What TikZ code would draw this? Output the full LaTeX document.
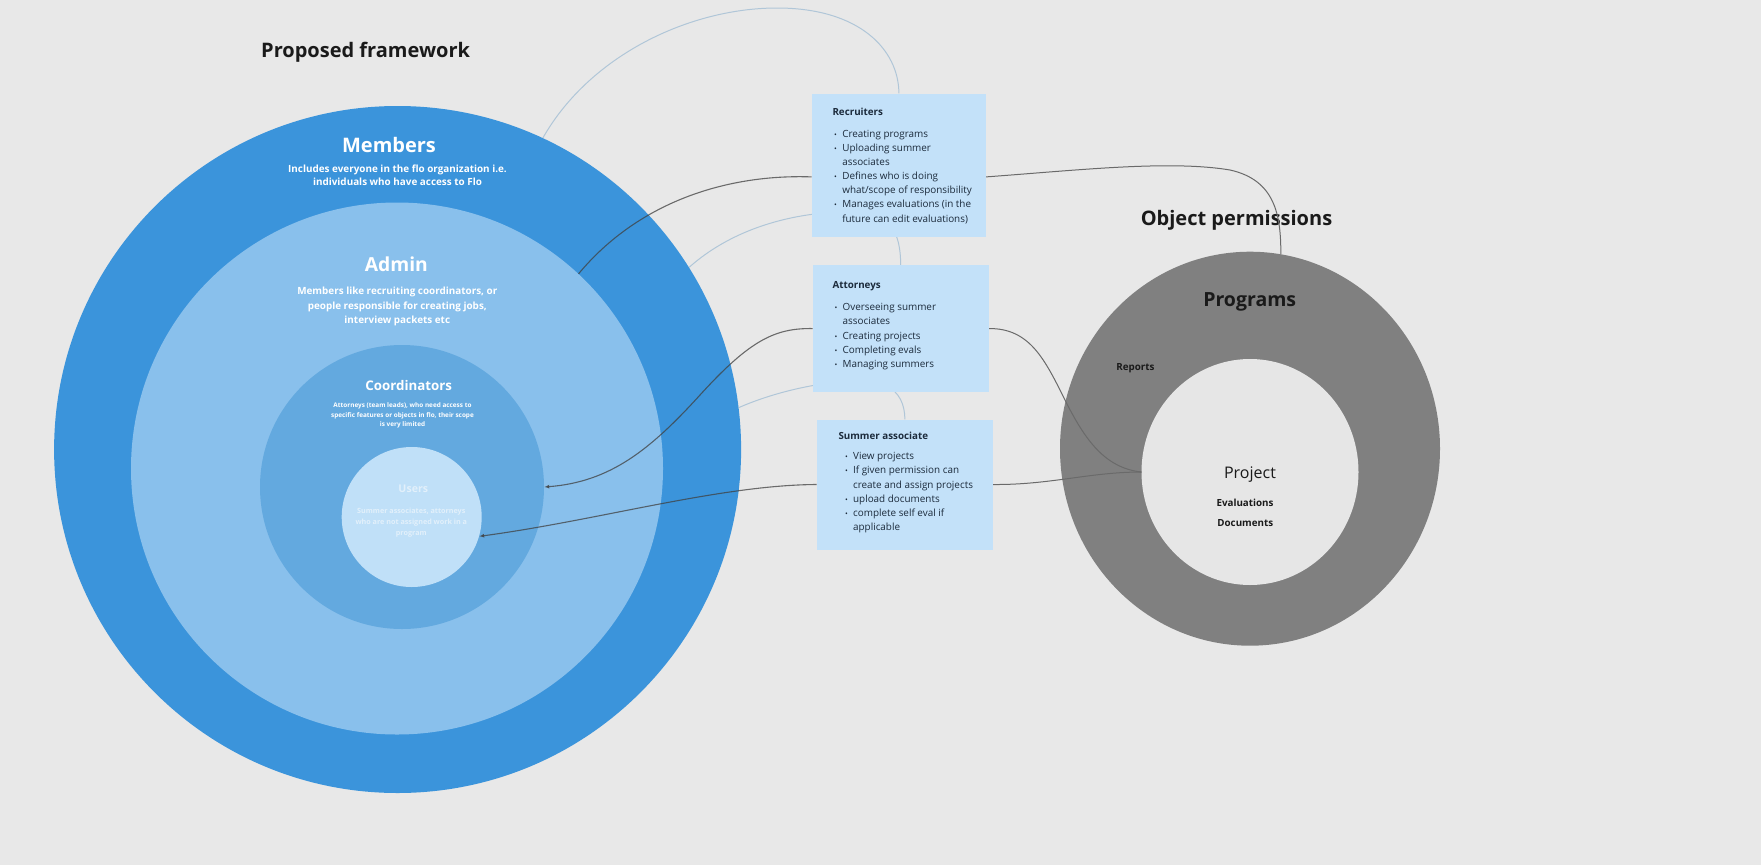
\documentclass[tikz,border=0pt]{standalone}
\usepackage{fontspec}
\usepackage{graphicx}
\setmainfont{Open Sans}
\usetikzlibrary{shapes.geometric,arrows.meta}
\pgfdeclarelayer{lines}\pgfdeclarelayer{front}
\pgfsetlayers{main,lines,front}
\definecolor{bgc}{HTML}{E8E8E8}
\definecolor{memc}{HTML}{3B94DB}
\definecolor{admc}{HTML}{89C0EC}
\definecolor{cooc}{HTML}{63A9DF}
\definecolor{usec}{HTML}{C0E0F8}
\definecolor{boxc}{HTML}{C3E1F9}
\definecolor{ringc}{HTML}{808080}
\definecolor{innc}{HTML}{E6E6E6}
\definecolor{navy}{HTML}{1C2B3C}
\definecolor{usetxt}{HTML}{E2F0FB}
\definecolor{darkln}{HTML}{404040}
\definecolor{greyln}{HTML}{6A6A6A}
\definecolor{lightln}{HTML}{B0C6D8}
\definecolor{headc}{HTML}{1A1A1A}
\newcommand{\bitem}{\makebox[8.7pt][l]{\hspace{0.6pt}\scalebox{0.75}{\textbullet}}}
\tikzset{
  ring/.style={circle, inner sep=0pt, draw=none},
  oval/.style={ellipse, inner sep=0pt, draw=none},
  infobox/.style={rectangle, fill=boxc, inner sep=0pt, anchor=north west},
  boxtitle/.style={anchor=base west, inner sep=0pt, text=navy, font=\bfseries\fontsize{9.8}{12}\selectfont},
  boxlist/.style={anchor=base west, inner sep=0pt, text=navy, font=\fontsize{9.9}{14.15}\selectfont},
  bigtitle/.style={anchor=base, inner sep=0pt, text=white, font=\bfseries\fontsize{20}{25}\selectfont},
  heading/.style={anchor=base, inner sep=0pt, text=headc, font=\bfseries\fontsize{20}{24}\selectfont},
  subtext/.style={anchor=base, inner sep=0pt, text=white, font=\bfseries\fontsize{9.9}{13.6}\selectfont},
  objlabel/.style={anchor=base, inner sep=0pt, text=headc, font=\bfseries\fontsize{9.8}{12}\selectfont},
  lightline/.style={draw=lightln, line width=1pt},
  darkline/.style={draw=darkln, line width=1.1pt, opacity=0.75},
  greyline/.style={draw=greyln, line width=1pt},
  tip/.style={-{Latex[length=5pt,width=4pt]}}
}
\begin{document}
\begin{tikzpicture}[x=1pt,y=-1pt]
\useasboundingbox (0,0) rectangle (1761,865);
\fill[bgc] (0,0) rectangle (1761,865);

% headings
\node[heading] (hpf) at (365.6,57) {Proposed framework};
\node[heading] (hop) at (1236.5,225) {Object permissions};

% nested circles
\node[ring, fill=memc, minimum size=687pt] (members) at (397.6,449.5) {};
\node[ring, fill=admc, minimum size=532pt] (admin) at (397,468.5) {};
\node[ring, fill=cooc, minimum size=284pt] (coord) at (402,487) {};
\node[ring, fill=usec, minimum size=140pt] (users) at (411.7,517) {};

\node[bigtitle] (tmem) at (389,152) {Members};
\node[subtext] (smem) at (397.5,172.3) {\begin{tabular}[t]{@{}c@{}}Includes everyone in the flo organization i.e.\\individuals who have access to Flo\end{tabular}};
\node[bigtitle, font=\bfseries\fontsize{19.3}{25}\selectfont] (tadm) at (396.3,271) {Admin};
\node[subtext, font=\bfseries\fontsize{9.9}{14.2}\selectfont] (sadm) at (397.3,294.8) {\begin{tabular}[t]{@{}c@{}}Members like recruiting coordinators, or\\people responsible for creating jobs,\\interview packets etc\end{tabular}};
\node[bigtitle, font=\bfseries\fontsize{13.3}{16}\selectfont] (tcoo) at (408.7,390.5) {Coordinators};
\node[subtext, font=\bfseries\fontsize{6.4}{9.5}\selectfont] (scoo) at (402.5,407.8) {\begin{tabular}[t]{@{}c@{}}Attorneys (team leads), who need access to\\specific features or objects in flo, their scope\\is very limited\end{tabular}};
\node[bigtitle, text=usetxt, font=\bfseries\fontsize{10.6}{13}\selectfont] (tuse) at (413.3,492) {Users};
\node[subtext, text=usetxt, font=\bfseries\fontsize{7.2}{11.2}\selectfont] (suse) at (411.3,513.5) {\begin{tabular}[t]{@{}c@{}}Summer associates, attorneys\\who are not assigned work in a\\program\end{tabular}};

% object permissions
\node[oval, fill=ringc, minimum width=380pt, minimum height=394pt] (programs) at (1250,448.7) {};
\node[oval, fill=innc, minimum width=217pt, minimum height=226pt] (project) at (1250,472) {};
\node[heading, font=\bfseries\fontsize{19.5}{24}\selectfont] (tprog) at (1249.7,306.5) {Programs};
\node[objlabel] (trep) at (1135.5,370) {Reports};
\node[anchor=base, inner sep=0pt, text=headc, font=\fontsize{16}{19}\selectfont] (tproj) at (1250,478) {Project};
\node[objlabel] (teval) at (1245,506) {Evaluations};
\node[objlabel] (tdoc) at (1245.3,526.6) {Documents};

% boxes
\begin{pgfonlayer}{front}
\node[infobox, minimum width=174pt, minimum height=143.4pt] (rec) at (811.7,93.3) {};
\node[infobox, minimum width=175.6pt, minimum height=126.7pt] (att) at (812.7,265) {};
\node[infobox, minimum width=176pt, minimum height=130pt] (sum) at (816.7,419.3) {};

\node[boxtitle] (trec) at (832.3,115.6) {Recruiters};
\node[boxlist] (lrec) at (833.4,137.2) {\begin{tabular}[t]{@{}l@{}l@{}}
\bitem & Creating programs\\
\bitem & Uploading summer\\
 & associates\\
\bitem & Defines who is doing\\
 & what/scope of responsibility\\
\bitem & Manages evaluations (in the\\
 & future can edit evaluations)
\end{tabular}};

\node[boxtitle] (tatt) at (832.3,288.3) {Attorneys};
\node[boxlist] (latt) at (833.7,310.8) {\begin{tabular}[t]{@{}l@{}l@{}}
\bitem & Overseeing summer\\
 & associates\\
\bitem & Creating projects\\
\bitem & Completing evals\\
\bitem & Managing summers
\end{tabular}};

\node[boxtitle] (tsum) at (838.3,439.3) {Summer associate};
\node[boxlist] (lsum) at (844.2,459.8) {\begin{tabular}[t]{@{}l@{}l@{}}
\bitem & View projects\\
\bitem & If given permission can\\
 & create and assign projects\\
\bitem & upload documents\\
\bitem & complete self eval if\\
 & applicable
\end{tabular}};
\end{pgfonlayer}

% connectors
\begin{pgfonlayer}{lines}
\draw[lightline] (members.65.5) .. controls (590,55) and (690,8) .. (777,8) .. controls (860,8) and (898.7,50) .. (rec.north);
\draw[lightline] (members.32.9) .. controls (740,222) and (810,210) .. (860,212) .. controls (895,214) and (900.5,240) .. (att.north);
\draw[lightline] (members.7) .. controls (790,385) and (860,375) .. (885,385) .. controls (900,392) and (904.7,405) .. (sum.north);
\draw[darkline] ([yshift=-11.7pt]rec.west) .. controls (730,174) and (640,200) .. (admin.47.7);
\draw[darkline, tip] (att.west) .. controls (775,328) and (750,340) .. (700,395) .. controls (650,450) and (610,482) .. (coord.east);
\draw[darkline, tip] (sum.west) .. controls (720,485) and (600,520) .. (users.-16.8);
\draw[greyline] ([yshift=-11.7pt]rec.east) .. controls (1080,170) and (1170,160) .. (1230,170) .. controls (1275,180) and (1281,215) .. (programs.81);
\draw[greyline] (att.east) .. controls (1030,328) and (1045,360) .. (1065,400) .. controls (1085,440) and (1105,468) .. (project.west);
\draw[greyline] (sum.east) .. controls (1050,485) and (1090,472) .. (project.west);
\end{pgfonlayer}
\end{tikzpicture}
\end{document}
